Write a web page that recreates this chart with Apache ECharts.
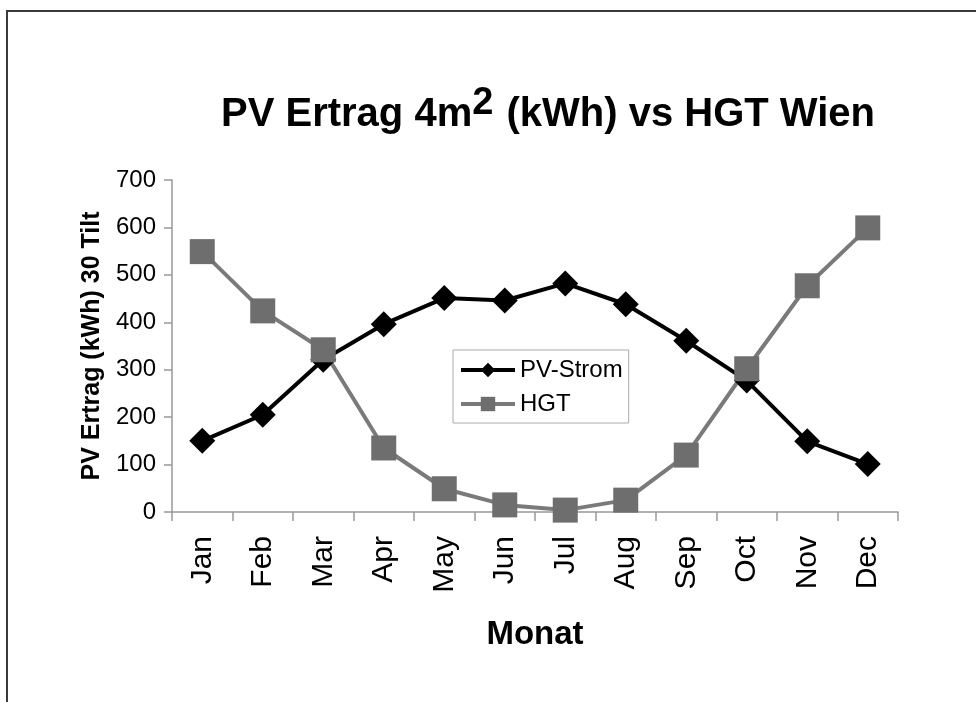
<!DOCTYPE html>
<html>
<head>
<meta charset="utf-8">
<script src="https://cdn.jsdelivr.net/npm/echarts@6/dist/echarts.min.js"></script>
<style>
  html, body { margin: 0; padding: 0; background: #fff; }
  #frame {
    position: absolute; left: 6px; top: 10px; width: 970px; height: 692px;
    border-top: 2px solid #3a3a3a; border-left: 2px solid #3a3a3a;
    box-sizing: border-box;
  }
  #chart { position: absolute; left: 0; top: 0; width: 976px; height: 702px; }
</style>
</head>
<body>
<div id="frame"></div>
<div id="chart"></div>
<script>
var months = ["Jan", "Feb", "Mar", "Apr", "May", "Jun", "Jul", "Aug", "Sep", "Oct", "Nov", "Dec"];
var pvStrom = [150, 205, 321, 396, 451, 446, 482, 438, 361, 277, 149, 101];
var hgt = [549, 424, 342, 135, 49, 15, 4, 25, 120, 302, 477, 599];

var font = "Liberation Sans, Arial, sans-serif";

var myChart = echarts.init(document.getElementById("chart"));
myChart.setOption({
  animation: false,
  textStyle: { fontFamily: font },
  title: {
    text: "{a|PV Ertrag 4m}{s|2}{a| (kWh) vs HGT Wien}",
    left: 216,
    top: 80,
    textStyle: {
      rich: {
        a: { fontSize: 40, fontWeight: "bold", color: "#000", fontFamily: font },
        s: { fontSize: 38, fontWeight: "bold", color: "#000", fontFamily: font, padding: [0, 2, 22, 0] }
      }
    }
  },
  legend: {
    orient: "vertical",
    left: 453,
    top: 350,
    itemWidth: 54,
    itemHeight: 18,
    itemGap: 10,
    padding: [8, 6, 7, 6],
    borderColor: "#aaa",
    borderWidth: 1,
    borderRadius: 0,
    lineStyle: { width: 4 },
    textStyle: { fontSize: 24, color: "#000", fontFamily: font, padding: [0, 0, 0, 0] },
    data: ["PV-Strom", "HGT"]
  },
  grid: { left: 172, right: 78, top: 180, bottom: 190 },
  xAxis: {
    type: "category",
    data: months,
    boundaryGap: true,
    name: "Monat",
    nameLocation: "middle",
    nameGap: 106,
    nameTextStyle: { fontSize: 33, fontWeight: "bold", color: "#000" },
    axisLine: { lineStyle: { color: "#999", width: 1.5 } },
    axisTick: { show: true, length: 9, lineStyle: { color: "#999", width: 1.5 } },
    axisLabel: { rotate: 90, fontSize: 30, color: "#000", margin: 24 }
  },
  yAxis: {
    type: "value",
    min: 0,
    max: 700,
    interval: 100,
    name: "PV Ertrag (kWh) 30 Tilt",
    nameLocation: "middle",
    nameGap: 62,
    nameTextStyle: { fontSize: 25, fontWeight: "bold", color: "#000" },
    axisLine: { show: true, lineStyle: { color: "#999", width: 1.5 } },
    axisTick: { show: true, length: 8, lineStyle: { color: "#999", width: 1.5 } },
    splitLine: { show: false },
    axisLabel: { fontSize: 24, color: "#000", margin: 16 }
  },
  series: [
    {
      name: "PV-Strom",
      type: "line",
      data: pvStrom,
      symbol: "diamond",
      symbolSize: 26,
      color: "#000",
      lineStyle: { color: "#000", width: 4 },
      itemStyle: { color: "#000" }
    },
    {
      name: "HGT",
      type: "line",
      data: hgt,
      symbol: "rect",
      symbolSize: 25,
      color: "#6e6e6e",
      lineStyle: { color: "#7a7a7a", width: 4 },
      itemStyle: { color: "#6e6e6e" }
    }
  ]
});
</script>
</body>
</html>
